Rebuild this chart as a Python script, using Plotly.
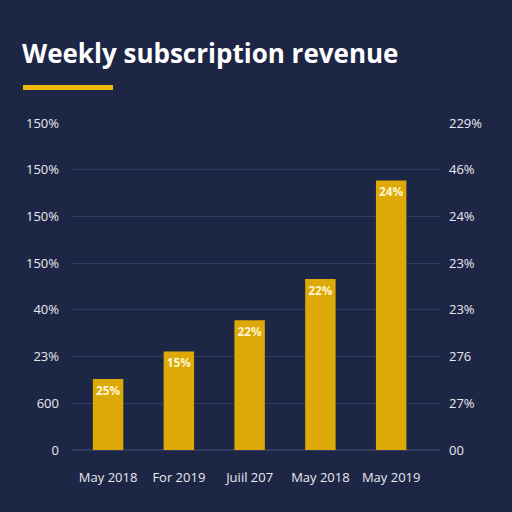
import plotly.graph_objects as go

# ---- data ----
categories = ["May 2018", "For 2019", "Juiil 207", "May 2018", "May 2019"]
revenue = [1.52, 2.11, 2.78, 3.66, 5.77]
bar_labels = ["25%", "15%", "22%", "22%", "24%"]
left_tick_vals = [0, 1, 2, 3, 4, 5, 6, 7]
left_tick_text = ["0", "600", "23%", "40%", "150%", "150%", "150%", "150%"]
right_tick_text = ["00", "27%", "276", "23%", "23%", "24%", "46%", "229%"]

BG = "#1e2645"
GRID = "#323b5c"
GOLD = "#dca907"
TXT = "#e6e9f0"

x_pos = list(range(len(categories)))

fig = go.Figure()
fig.add_trace(go.Bar(
    x=x_pos, y=revenue, text=[f"<b>{t}</b>" for t in bar_labels],
    textposition="inside", insidetextanchor="end", textangle=0,
    textfont=dict(color="#fff6d2", size=13, family="Open Sans"),
    marker=dict(color=GOLD, line=dict(width=0)),
    width=0.43, showlegend=False, hoverinfo="skip",
))
fig.add_trace(go.Scatter(
    x=x_pos, y=revenue, yaxis="y2", mode="markers",
    marker=dict(opacity=0), showlegend=False, hoverinfo="skip",
))

fig.update_layout(
    width=512, height=512,
    paper_bgcolor=BG, plot_bgcolor=BG,
    margin=dict(l=72, r=72, t=123, b=62),
    title=dict(
        text="<b>Weekly subscription revenue</b>",
        x=22 / 512, xanchor="left", xref="container",
        y=1 - 54 / 512, yanchor="middle", yref="container",
        font=dict(family="Open Sans", size=26, color="#ffffff"),
    ),
    font=dict(family="Open Sans", color=TXT, size=13),
    xaxis=dict(
        range=[-0.51, 4.69], tickvals=x_pos, ticktext=categories,
        showgrid=False, zeroline=False, showline=False,
        ticks="", ticklabelstandoff=18,
        tickfont=dict(size=13, color=TXT),
    ),
    yaxis=dict(
        range=[0, 7], tickvals=left_tick_vals, ticktext=left_tick_text,
        showgrid=True, gridcolor=GRID, gridwidth=1,
        zeroline=True, zerolinecolor=GRID, showline=False,
        ticks="", ticklabelstandoff=12,
        tickfont=dict(size=13, color=TXT),
    ),
    yaxis2=dict(
        range=[0, 7], tickvals=left_tick_vals, ticktext=right_tick_text,
        overlaying="y", side="right", showgrid=False, zeroline=False,
        showline=False, ticks="", ticklabelstandoff=8,
        tickfont=dict(size=13, color=TXT),
    ),
    shapes=[dict(
        type="rect", xref="paper", yref="paper",
        xsizemode="pixel", ysizemode="pixel",
        xanchor=0, yanchor=1,
        x0=-49, x1=41, y0=33, y1=38,
        fillcolor="#f0b90b", line=dict(width=0),
    )],
)

fig.write_html("out.html")
